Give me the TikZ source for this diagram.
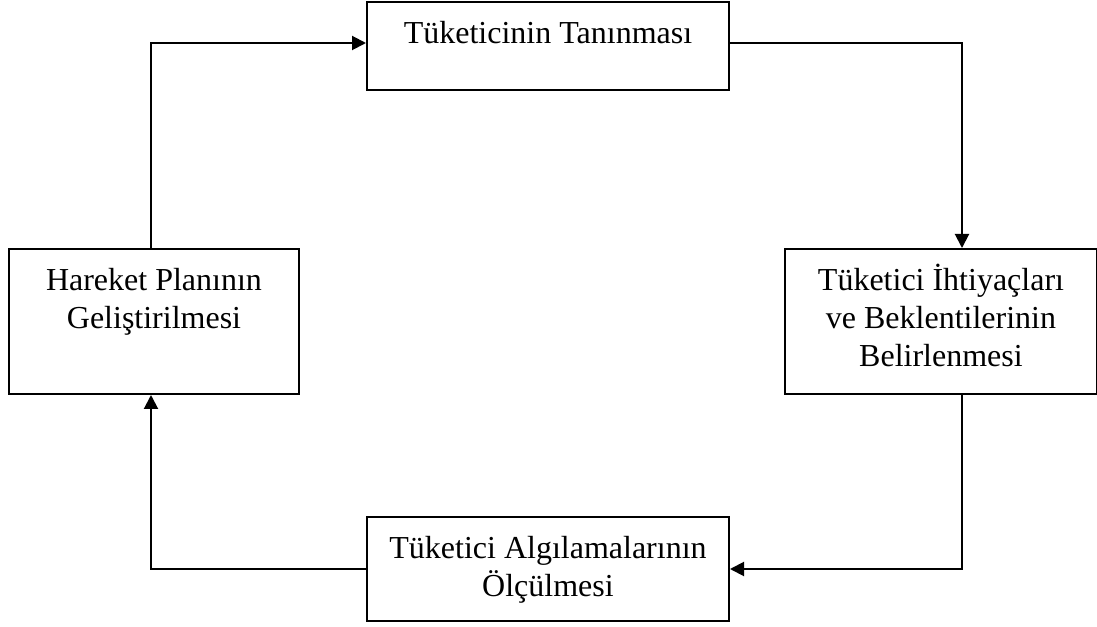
\documentclass[tikz,border=0pt]{standalone}
\usepackage{fontspec}
\setmainfont{Liberation Serif}
\usepackage{tikz}
\usetikzlibrary{positioning}
\usetikzlibrary{calc}
\usetikzlibrary{arrows.meta}
\newcommand{\boxtext}[3]{\parbox[t][#2][t]{#1}{\centering\rule{0pt}{31pt}#3}}

\begin{document}
\begin{tikzpicture}[x=0.75pt,y=-0.75pt,
		stage/.style={draw,line width=1.5pt,inner sep=0pt,anchor=north west,font=\fontsize{24}{28.5}\selectfont},
		flow/.style={line width=1.5pt,-{Triangle[length=10.5pt,width=10.5pt]}}]
				\useasboundingbox (0,0) rectangle (1097,627);
				
				\node[stage] (tanima) at (366,1) {\boxtext{271.5pt}{66pt}{Tüketicinin Tanınması}};
				\node[stage] (ihtiyac) at (784,248) {\boxtext{234pt}{108.75pt}{Tüketici İhtiyaçları\\ve Beklentilerinin\\Belirlenmesi}};
				\node[stage] (plan) at (8,248) {\boxtext{217.5pt}{108.75pt}{Hareket Planının\\Geliştirilmesi}};
				\node[stage] (olcum) at (366,516) {\boxtext{271.5pt}{78pt}{Tüketici Algılamalarının\\Ölçülmesi}};
				
				\draw[flow] ([yshift=2.25pt]tanima.east) -| ([xshift=15.75pt]ihtiyac.north);
				\draw[flow] ([xshift=15.75pt]ihtiyac.south) |- (olcum.east);
				\draw[flow] (olcum.west) -| ([xshift=-2.25pt]plan.south);
				\draw[flow] ([xshift=-2.25pt]plan.north) |- ([yshift=2.25pt]tanima.west);
			\end{tikzpicture}
\end{document}
